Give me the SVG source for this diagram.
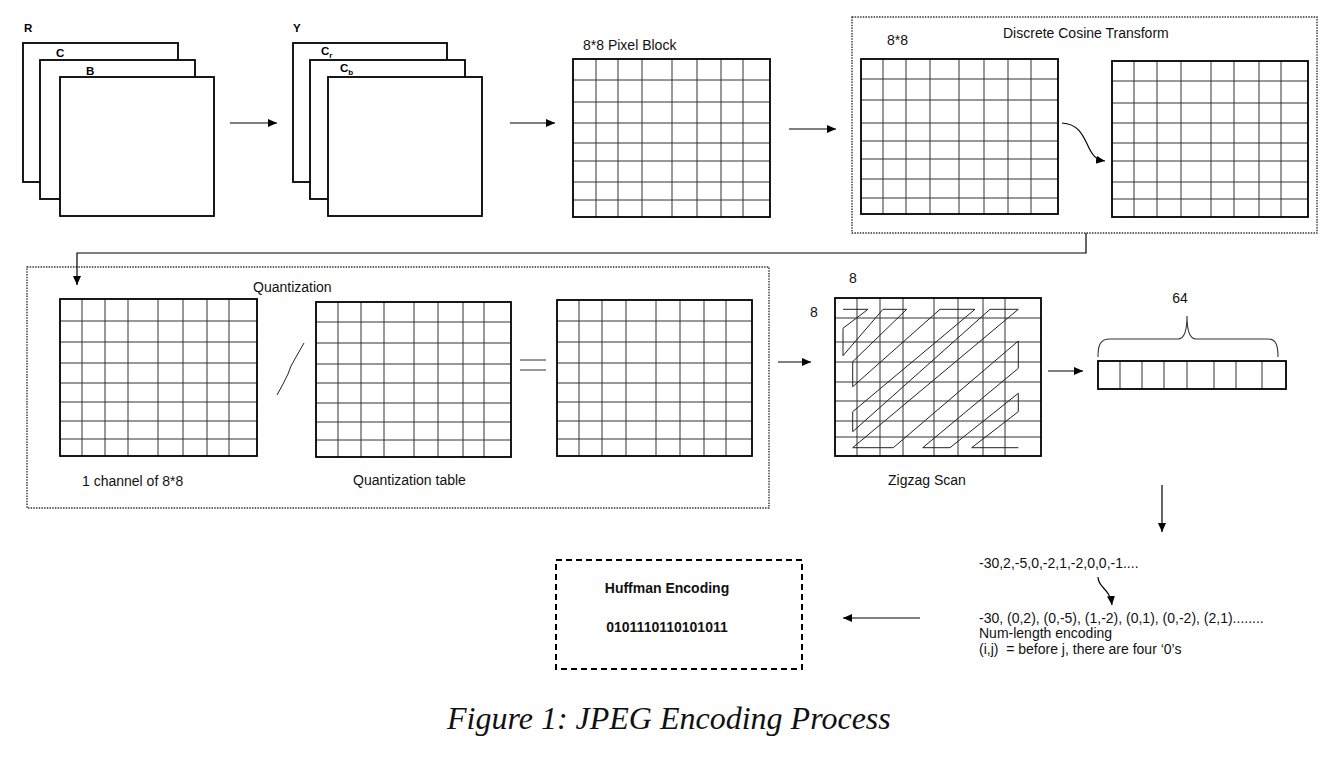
<svg xmlns="http://www.w3.org/2000/svg" width="1329" height="759" viewBox="0 0 1329 759">
<style>
.frame{fill:#fff;stroke:#000;stroke-width:1.8}
.gl{fill:none;stroke:#333;stroke-width:1}
.gf{fill:none;stroke:#000;stroke-width:1.8}
.dot{fill:none;stroke:#333;stroke-width:1.4;stroke-dasharray:1.5 1.2}
.dash{fill:none;stroke:#000;stroke-width:2;stroke-dasharray:6 4}
.ar{fill:none;stroke:#000;stroke-width:1.2}
.t{font-family:"Liberation Sans",Arial,sans-serif;font-size:14px;fill:#111}
.b{font-family:"Liberation Sans",Arial,sans-serif;font-size:11.5px;font-weight:bold;fill:#000}
.zz{fill:none;stroke:#222;stroke-width:1}
</style>
<defs>
<marker id="ah" markerUnits="userSpaceOnUse" markerWidth="10" markerHeight="10" viewBox="0 0 10 8" refX="9" refY="4" orient="auto">
<path d="M0,0 L9,4 L0,8 z" fill="#000"/>
</marker>
</defs>
<rect width="1329" height="759" fill="#fff"/>

<g id="rgb">
<rect class="frame" x="23" y="43" width="155" height="139"/>
<rect class="frame" x="40" y="60" width="155" height="139"/>
<rect class="frame" x="60" y="77" width="154" height="139"/>
<text class="b" x="24" y="32">R</text>
<text class="b" x="56" y="57">C</text>
<text class="b" x="86" y="75">B</text>
</g>

<g id="ycbcr">
<rect class="frame" x="293" y="43" width="154" height="139"/>
<rect class="frame" x="310" y="60" width="155" height="139"/>
<rect class="frame" x="328" y="77" width="154" height="139"/>
<text class="b" x="293" y="32">Y</text>
<text class="b" x="321" y="55">C<tspan font-size="8" dy="3">r</tspan></text>
<text class="b" x="340" y="72">C<tspan font-size="8" dy="2.5">b</tspan></text>
</g>

<g id="pixel-block">
<text class="t" x="583" y="50">8*8 Pixel Block</text>
<path class="gl" d="M596 59V217M618 59V217M642 59V217M672 59V217M697 59V217M721 59V217M743 59V217M573 80H770M573 102H770M573 123H770M573 143H770M573 161H770M573 182H770M573 200H770"/>
<rect class="gf" x="573" y="59" width="197" height="158"/>
</g>

<g id="dct">
<rect class="dot" x="852" y="17" width="465" height="216"/>
<text class="t" x="1003" y="38">Discrete Cosine Transform</text>
<text class="t" x="887" y="45" font-size="15">8*8</text>
<path class="gl" d="M883 59V214M906 59V214M930 59V214M959 59V214M984 59V214M1008 59V214M1031 59V214M861 79H1058M861 100H1058M861 123H1058M861 141H1058M861 159H1058M861 179H1058M861 198H1058"/>
<rect class="gf" x="861" y="59" width="197" height="155" stroke-width="1.4"/>
<path class="gl" d="M1134 61V217M1157 61V217M1181 61V217M1211 61V217M1234 61V217M1259 61V217M1281 61V217M1112 81H1308M1112 103H1308M1112 123H1308M1112 143H1308M1112 161H1308M1112 182H1308M1112 199H1308"/>
<rect class="gf" x="1112" y="61" width="196" height="156" stroke-width="1.4"/>
</g>

<g id="quantization">
<rect class="dot" x="27" y="267" width="742" height="241"/>
<text class="t" x="253" y="292">Quantization</text>
<path class="gl" d="M82 299V456M105 299V456M128 299V456M158 299V456M183 299V456M207 299V456M229 299V456M60 321H257M60 342H257M60 363H257M60 383H257M60 402H257M60 421H257M60 439H257"/>
<rect class="gf" x="60" y="299" width="197" height="157" stroke-width="1.4"/>
<text class="t" x="82" y="486">1 channel of 8*8</text>
<path fill="none" stroke="#222" stroke-width="1" d="M277 395L283 384L288 374L291 366L296 357L304 343"/>
<path class="gl" d="M338 302V457M361 302V457M384 302V457M414 302V457M438 302V457M463 302V457M484 302V457M316 322H511M316 343H511M316 364H511M316 383H511M316 403H511M316 422H511M316 440H511"/>
<rect class="gf" x="316" y="302" width="195" height="155" stroke-width="1.4"/>
<text class="t" x="353" y="485">Quantization table</text>
<path fill="none" stroke="#333" stroke-width="1" d="M520 360H546M520 370H546"/>
<path class="gl" d="M579 300V456M602 300V456M626 300V456M656 300V456M680 300V456M704 300V456M726 300V456M557 321H752M557 342H752M557 363H752M557 383H752M557 402H752M557 421H752M557 439H752"/>
<rect class="gf" x="557" y="300" width="195" height="156" stroke-width="1.4"/>
</g>

<g id="zigzag">
<text class="t" x="849" y="283" font-size="15">8</text>
<text class="t" x="810" y="317" font-size="15">8</text>
<path class="gl" d="M857 298V456M880 298V456M903 298V456M934 298V456M958 298V456M983 298V456M1005 298V456M835 318H1041M835 342H1041M835 362H1041M835 382H1041M835 401H1041M835 421H1041M835 437H1041"/>
<rect class="gf" x="835" y="298" width="206" height="158" stroke-width="1.4"/>
<path class="zz" d="M843 309.3L868 309.3L843 328.3L843 355.7L883 309.3L906.7 309.3L852.7 361.7L852.7 386.7L940 309.3L975 309.3L852.7 411.7L852.7 431.7L990 309.3L1018.3 309.3L852.7 447.7L893.3 447.7L1018.3 341L1018.3 368.3L922.7 447.7L950 447.7L1018.3 393.3L1018.3 411.7L971.7 447.7L1018.3 447.7"/>
<text class="t" x="888" y="485" font-size="13">Zigzag Scan</text>
</g>

<g id="vector64">
<text class="t" x="1180" y="303" text-anchor="middle">64</text>
<path fill="none" stroke="#333" stroke-width="1.1" d="M1098 357C1098 345 1100 339 1110 339H1178C1185 339 1187 330 1187 316C1187 330 1189 339 1196 339H1268C1276 339 1278 345 1278 357"/>
<path class="gl" d="M1120 361V389M1142 361V389M1164 361V389M1187 361V389M1214 361V389M1236 361V389M1262 361V389"/>
<rect class="gf" x="1098" y="361" width="188" height="28" stroke-width="1.4"/>
</g>

<g id="rle">
<text class="t" x="979" y="568" font-size="13.5">-30,2,-5,0,-2,1,-2,0,0,-1....</text>
<text class="t" x="979" y="623" font-size="13.5">-30, (0,2), (0,-5), (1,-2), (0,1), (0,-2), (2,1)........</text>
<text class="t" x="979" y="638" font-size="13.5">Num-length encoding</text>
<text class="t" x="979" y="654" font-size="13.5">(i,j)&#160; = before j, there are four ‘0’s</text>
</g>

<g id="huffman">
<rect class="dash" x="556" y="560" width="246" height="109"/>
<text class="t" x="667" y="593" font-weight="bold" font-size="13" text-anchor="middle" fill="#000">Huffman Encoding</text>
<text class="t" x="667" y="632" font-weight="bold" font-size="14.5" text-anchor="middle" fill="#000">0101110110101011</text>
</g>

<g id="connectors">
<path class="ar" d="M230 123H277" marker-end="url(#ah)"/>
<path class="ar" d="M510 123H555" marker-end="url(#ah)"/>
<path class="ar" d="M789 129H836" marker-end="url(#ah)"/>
<path class="ar" d="M1062 123C1080 124 1084 138 1089 148S1098 160 1105 161" marker-end="url(#ah)"/>
<path class="ar" d="M1086 233V253H77V285" stroke="#444" marker-end="url(#ah)"/>
<path class="ar" d="M778 362H811" marker-end="url(#ah)"/>
<path class="ar" d="M1048 371H1083" marker-end="url(#ah)"/>
<path class="ar" d="M1162 485V532" marker-end="url(#ah)"/>
<path class="ar" d="M1098 577C1098 588 1110 588 1112 605" marker-end="url(#ah)"/>
<path class="ar" d="M920 618H843" marker-end="url(#ah)"/>
</g>

<text x="447" y="729" font-family="'Liberation Serif','Times New Roman',serif" font-style="italic" font-size="32" fill="#111">Figure 1: JPEG Encoding Process</text>
</svg>
